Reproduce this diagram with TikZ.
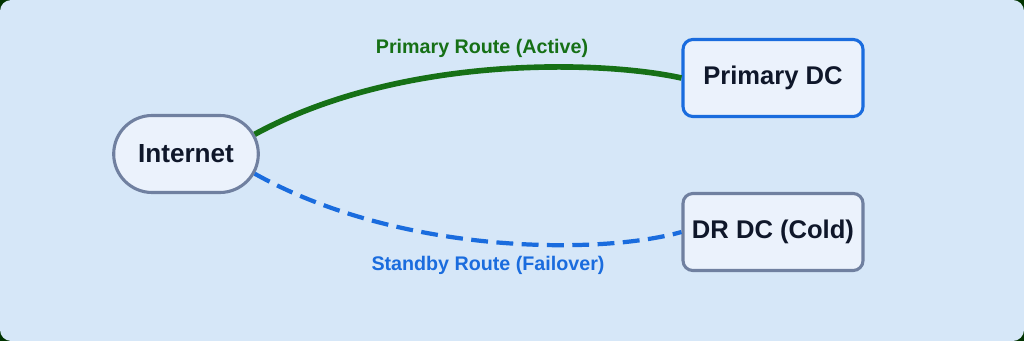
\documentclass[tikz,border=0pt]{standalone}
\usepackage{fontspec}
\setmainfont{Liberation Sans}
\usepackage{tikz}
\usetikzlibrary{
  positioning,
  shapes.misc
}
\definecolor{panelblue}{RGB}{214, 231, 248}
\definecolor{boxfill}{RGB}{235, 242, 252}
\definecolor{slateedge}{RGB}{112, 128, 160}
\definecolor{activeblue}{RGB}{26, 108, 222}
\definecolor{routegreen}{RGB}{22, 112, 22}
\definecolor{inkdark}{RGB}{15, 23, 42}
\tikzset{
  sitebox/.style={
    draw, line width=2.2pt, fill=boxfill,
    rounded corners=7pt,
    minimum width=180*0.025cm,
    minimum height=77*0.025cm,
    font=\fontsize{18.2}{21}\selectfont\bfseries,
    text=inkdark, align=center
  },
  cloudbox/.style={
    rounded rectangle, draw=slateedge, line width=2.2pt, fill=boxfill,
    minimum width=154*0.025cm,
    minimum height=77*0.025cm,
    font=\fontsize{18.6}{21}\selectfont\bfseries,
    text=inkdark
  },
  routelabel/.style={font=\fontsize{14}{17}\selectfont\bfseries}
}

\begin{document}
\begin{tikzpicture}[
  x=0.025cm, y=-0.025cm,
  activeroute/.style={draw=routegreen, line width=4pt},
  standbyroute/.style={draw=activeblue, line width=3pt, dash pattern=on 12pt off 6pt},
]

% background panel
\fill[black!80!green] (0, 0) rectangle (1024, 341);
\fill[panelblue, rounded corners=8pt] (0, 0) rectangle (1024, 341);
\useasboundingbox (0, 0) rectangle (1024, 341);

% nodes
\node[cloudbox] (internet) at (186, 154) {Internet};
\node[sitebox, draw=activeblue] (primary) at (773, 78) {Primary DC};
\node[sitebox, draw=slateedge] (dr) at (773, 232) {DR DC (Cold)};

% routes
\draw[activeroute] (internet.16) .. controls (400, 55) and (600, 60) .. (primary.west);
\draw[standbyroute] (internet.-16) .. controls (400, 255) and (600, 255) .. (dr.west);

% labels
\node[routelabel, text=routegreen] (activelabel) at (482, 48) {Primary Route (Active)};
\node[routelabel, text=activeblue] (standbylabel) at (488, 265) {Standby Route (Failover)};

\end{tikzpicture}
\end{document}
